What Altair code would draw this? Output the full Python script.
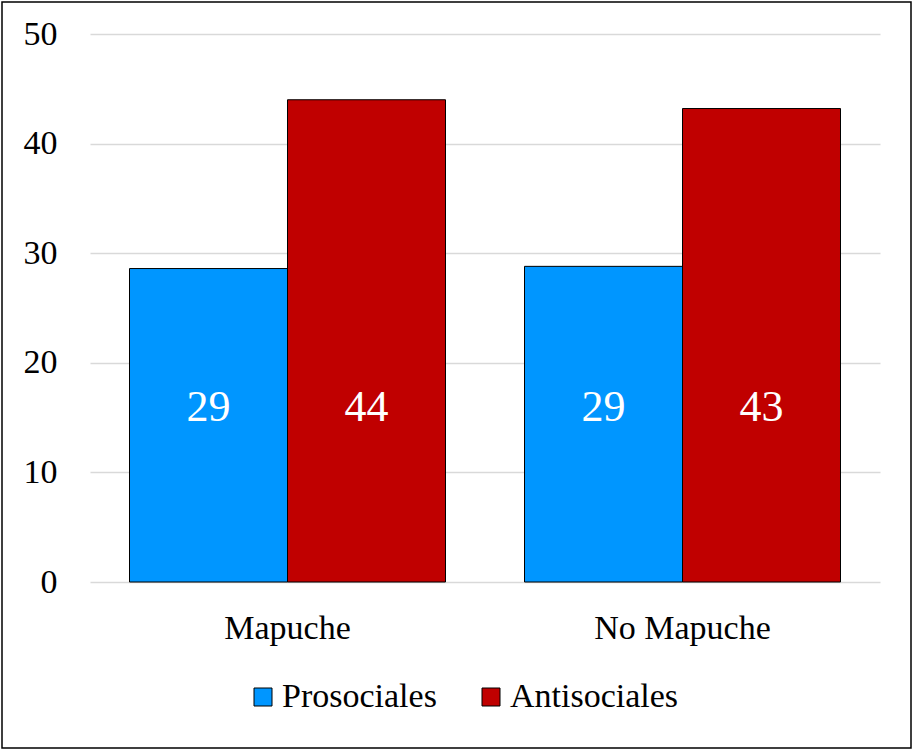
import altair as alt
import pandas as pd

categories = ["Mapuche", "Mapuche", "No Mapuche", "No Mapuche"]
series = ["Prosociales", "Antisociales", "Prosociales", "Antisociales"]
values = [28.6, 44.0, 28.8, 43.2]
labels = ["29", "44", "29", "43"]
y_ticks = [0, 10, 20, 30, 40, 50]

df = pd.DataFrame({"cat": categories, "serie": series, "val": values, "lab": labels})

FONT = "Liberation Serif"
W, H = 790, 548

color = alt.Color(
    "serie:N",
    scale=alt.Scale(domain=["Prosociales", "Antisociales"], range=["#0096FF", "#C00000"]),
    sort=["Prosociales", "Antisociales"],
    legend=alt.Legend(
        title=None,
        orient="none",
        direction="horizontal",
        legendX=156,
        legendY=646,
        symbolType="square",
        symbolSize=324,
        symbolStrokeColor="black",
        symbolStrokeWidth=1,
        symbolOpacity=1,
        labelFont=FONT,
        labelFontSize=34,
        labelColor="black",
        labelOffset=2,
        columnPadding=37,
        labelLimit=400,
    ),
)

x = alt.X(
    "cat:N",
    title=None,
    scale=alt.Scale(paddingInner=0.2, paddingOuter=0.1),
    axis=alt.Axis(
        labelAngle=0,
        labelFont=FONT,
        labelFontSize=34,
        labelColor="black",
        labelPadding=29,
        ticks=False,
        domain=False,
        grid=False,
    ),
)

y = alt.Y(
    "val:Q",
    title=None,
    scale=alt.Scale(domain=[0, 50], nice=False),
    axis=alt.Axis(
        values=y_ticks,
        labelFont=FONT,
        labelFontSize=34,
        labelColor="black",
        labelPadding=33,
        ticks=False,
        domain=False,
        grid=True,
        gridColor="#D9D9D9",
        gridWidth=1.5,
    ),
)

bars = alt.Chart(df).mark_bar(stroke="black", strokeWidth=1).encode(
    x=x,
    xOffset=alt.XOffset("serie:N", sort=["Prosociales", "Antisociales"]),
    y=y,
    color=color,
)

text = alt.Chart(df).mark_text(
    font=FONT, fontSize=44, color="white", baseline="middle", align="center"
).encode(
    x=alt.X("cat:N"),
    xOffset=alt.XOffset("serie:N", sort=["Prosociales", "Antisociales"]),
    y=alt.datum(15.9),
    text="lab:N",
)

border = alt.Chart(pd.DataFrame({"k": [1]})).mark_rect(
    filled=False, stroke="black", strokeWidth=1.5
).encode(
    x=alt.value(-88),
    x2=alt.value(W + 31),
    y=alt.value(-32),
    y2=alt.value(H + 166),
)

chart = alt.layer(bars, text, border).properties(
    width=W,
    height=H,
    autosize=alt.AutoSizeParams(type="none"),
    padding={"left": 90, "top": 34, "right": 33, "bottom": 168},
).configure(
    background="white", font=FONT
).configure_view(
    strokeWidth=0, stroke="transparent"
)

chart.save("out.html", embed_options={"renderer": "svg", "actions": False})
